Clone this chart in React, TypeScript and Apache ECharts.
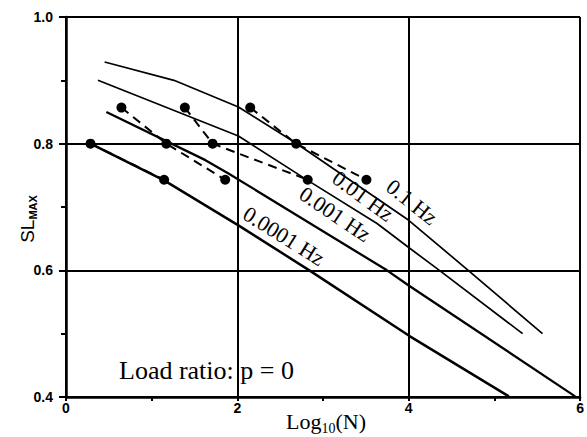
import React, { useEffect, useRef } from "react";
import * as echarts from "echarts";

// Axis ticks
const xTicks = [0, 2, 4, 6];
const yTicks = [0.4, 0.6, 0.8, 1.0];

// Model curves (log10 N, SL_max)
const curve01Hz: number[][] = [
  [0.451, 0.929], [1.26, 0.9], [2.012, 0.858], [2.682, 0.801], [4.0, 0.679], [4.694, 0.6], [5.561, 0.5],
];
const curve001Hz: number[][] = [
  [0.373, 0.9], [2.012, 0.812], [2.821, 0.742], [3.63, 0.674], [4.0, 0.636], [4.358, 0.6], [5.329, 0.5],
];
const curve0001Hz: number[][] = [
  [0.471, 0.85], [1.627, 0.774], [1.896, 0.753], [3.746, 0.6], [4.0, 0.576], [5.942, 0.401],
];
const curve00001Hz: number[][] = [
  [0.286, 0.8], [1.145, 0.742], [2.012, 0.671], [2.84, 0.6], [4.0, 0.497], [5.168, 0.401],
];

// Test points (log10 N, SL_max), joined by dashed lines per frequency
const test01Hz: number[][] = [[2.15, 0.857], [2.686, 0.8], [3.506, 0.743]];
const test001Hz: number[][] = [[1.387, 0.857], [1.711, 0.8], [2.821, 0.743]];
const test0001Hz: number[][] = [[0.647, 0.857], [1.171, 0.8], [1.858, 0.743]];
const test00001Hz: number[][] = [[0.286, 0.8], [1.145, 0.743]];

const freqLabels = ["0.1 Hz", "0.01 Hz", "0.001 Hz", "0.0001 Hz"];

export default function App() {
  const ref = useRef<HTMLDivElement>(null);
  useEffect(() => {
    if (!ref.current) return;
    const chart = echarts.init(ref.current, null, { renderer: "svg" });
    const solid = (data: number[][], w: number) => ({
      type: "line",
      data,
      showSymbol: false,
      symbol: "none",
      lineStyle: { color: "#000", width: w },
      silent: true,
      z: 3,
    });
    const dashed = (data: number[][]) => ({
      type: "line",
      data,
      symbol: "circle",
      symbolSize: 10,
      itemStyle: { color: "#000" },
      lineStyle: { color: "#000", width: 2, type: [9, 6] },
      silent: true,
      z: 4,
    });
    const serif = "'Liberation Serif', 'Times New Roman', serif";
    const sans = "'Liberation Sans', Arial, sans-serif";
    const freqPos = [
      { x: 412, y: 202, a: 39 },
      { x: 363, y: 196, a: 36 },
      { x: 335, y: 214, a: 34 },
      { x: 284, y: 236, a: 32 },
    ];
    chart.setOption({
      animation: false,
      backgroundColor: "#fff",
      grid: { left: 66, right: 2, top: 17, bottom: 40 },
      xAxis: {
        type: "value",
        min: xTicks[0],
        max: xTicks[xTicks.length - 1],
        interval: 2,
        axisLine: { show: true, lineStyle: { color: "#000", width: 2.5 } },
        axisTick: { show: true, inside: false, length: 4, lineStyle: { color: "#000", width: 2 } },
        minorTick: { show: true, splitNumber: 2, length: 4, lineStyle: { color: "#000", width: 2 } },
        splitLine: { show: true, lineStyle: { color: "#000", width: 2 } },
        axisLabel: {
          color: "#000",
          fontWeight: "bold",
          fontSize: 14,
          fontFamily: sans,
          margin: 4,
          formatter: (v: number) => String(v),
        },
      },
      yAxis: {
        type: "value",
        min: yTicks[0],
        max: yTicks[yTicks.length - 1],
        interval: 0.2,
        axisLine: { show: true, lineStyle: { color: "#000", width: 2.5 } },
        axisTick: { show: true, inside: false, length: 7, lineStyle: { color: "#000", width: 2 } },
        minorTick: { show: true, splitNumber: 2, length: 5, lineStyle: { color: "#000", width: 2 } },
        splitLine: { show: true, lineStyle: { color: "#000", width: 2 } },
        axisLabel: {
          color: "#000",
          fontWeight: "bold",
          fontSize: 14,
          fontFamily: sans,
          margin: 13,
          formatter: (v: number) => v.toFixed(1),
        },
      },
      series: [
        solid(curve01Hz, 1.7),
        solid(curve001Hz, 1.7),
        solid(curve0001Hz, 2.3),
        solid(curve00001Hz, 2.5),
        dashed(test01Hz),
        dashed(test001Hz),
        dashed(test0001Hz),
        dashed(test00001Hz),
      ],
      graphic: [
        ...freqLabels.map((t, i) => ({
          type: "text",
          x: freqPos[i].x,
          y: freqPos[i].y,
          rotation: (-freqPos[i].a * Math.PI) / 180,
          z: 10,
          style: {
            text: t,
            fontSize: 22,
            fontFamily: serif,
            fill: "#000",
            align: "center",
            verticalAlign: "middle",
          },
        })),
        {
          type: "text",
          x: 119,
          y: 370,
          z: 10,
          style: {
            text: "Load ratio: p = 0",
            fontSize: 26,
            fontFamily: serif,
            fill: "#000",
            align: "left",
            verticalAlign: "middle",
          },
        },
        {
          type: "text",
          x: 326,
          y: 421,
          z: 10,
          style: {
            text: "{a|Log}{b|10}{a|(N)}",
            fill: "#000",
            align: "center",
            verticalAlign: "middle",
            rich: {
              a: { fontSize: 22, fontFamily: serif, fill: "#000", lineHeight: 28 },
              b: { fontSize: 14, fontFamily: serif, fill: "#000", lineHeight: 14, verticalAlign: "bottom" },
            },
          },
        },
        {
          type: "text",
          x: 27,
          y: 219,
          rotation: Math.PI / 2,
          z: 10,
          style: {
            text: "{s|SL}{m|MAX}",
            fill: "#000",
            align: "center",
            verticalAlign: "middle",
            rich: {
              s: { fontSize: 19, fontFamily: sans, fill: "#000", lineHeight: 22 },
              m: { fontSize: 11, fontWeight: "bold", fontFamily: sans, fill: "#000", lineHeight: 14, verticalAlign: "bottom" },
            },
          },
        },
      ],
    } as any);
    return () => chart.dispose();
  }, []);
  return (
    <div
      ref={ref}
      style={{ position: "fixed", left: 0, top: 0, width: 587, height: 437, background: "#fff" }}
    />
  );
}
